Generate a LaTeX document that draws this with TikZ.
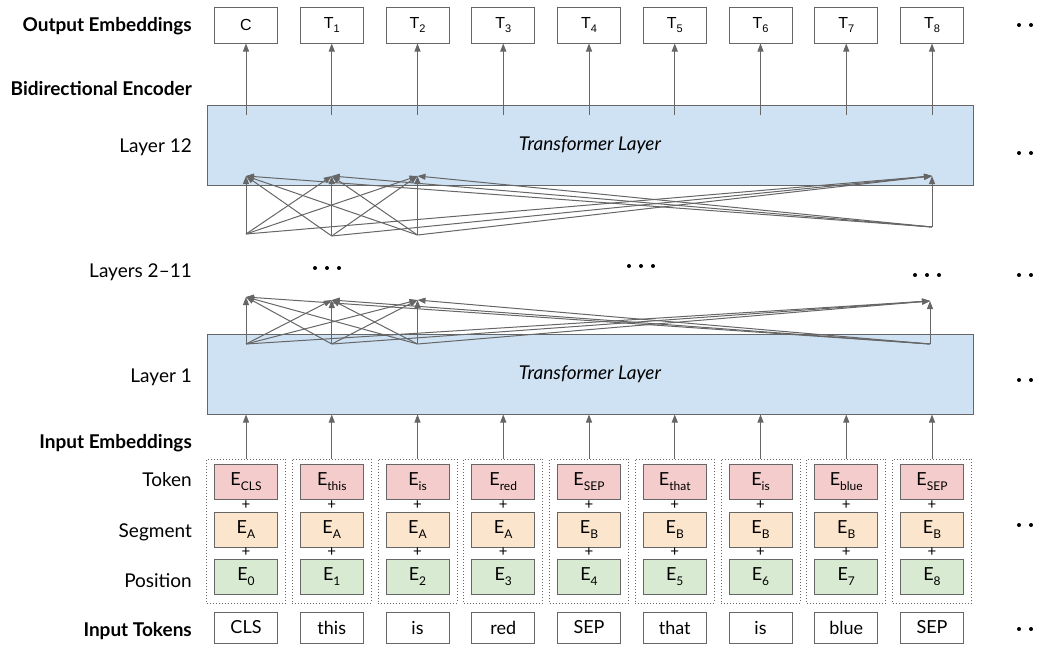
\documentclass[tikz,border=0pt]{standalone}
\usepackage{fontspec}
\setmainfont{Lato}
\newfontfamily\outfont{Liberation Sans}
\usetikzlibrary{positioning,arrows.meta}

\definecolor{tokred}{HTML}{F4CCCC}
\definecolor{segorange}{HTML}{FCE5CD}
\definecolor{posgreen}{HTML}{D9EAD3}
\definecolor{layerblue}{HTML}{CFE2F3}
\definecolor{edge}{HTML}{666666}

% lowered subscript at a fixed size
\newcommand\lowsub[2][12]{\raisebox{-4.5pt}{\fontsize{#1}{#1}\selectfont #2}}

\tikzset{
  rowlabel/.style={anchor=east, inner sep=0pt, font=\fontsize{19}{22}\selectfont},
  rowhead/.style={rowlabel, font=\bfseries\fontsize{19}{22}\selectfont},
  cell/.style={draw=edge, line width=1pt, minimum width=63pt, minimum height=35pt, inner sep=0pt, font=\fontsize{18}{20}\selectfont},
  layer/.style={draw=edge, line width=1pt, fill=layerblue, minimum width=766pt, minimum height=80pt, font=\itshape\fontsize{19}{22}\selectfont},
  group/.style={draw=edge, dotted, line width=1pt, minimum width=79pt, minimum height=144pt, inner sep=0pt},
  arr/.style={draw=edge, line width=1pt, -{Triangle[length=8pt,width=6pt]}},
  dot/.style={fill=black},
}

\begin{document}
\begin{tikzpicture}[x=1pt,y=-1pt]
\useasboundingbox (0,0) rectangle (1040,645);

% row labels
\node[rowhead]  (lbl-out)  at (192,26)  {Output Embeddings};
\node[rowhead]  (lbl-enc)  at (192,89)  {Bidirectional Encoder};
\node[rowlabel] (lbl-l12)  at (192,147) {Layer 12};
\node[rowlabel] (lbl-mid)  at (192,272) {Layers 2–11};
\node[rowlabel] (lbl-l1)   at (192,377) {Layer 1};
\node[rowhead]  (lbl-emb)  at (192,443) {Input Embeddings};
\node[rowlabel] (lbl-tok)  at (192,480) {Token};
\node[rowlabel] (lbl-seg)  at (192,532) {Segment};
\node[rowlabel] (lbl-pos)  at (192,581) {Position};
\node[rowhead]  (lbl-in)   at (192,631) {Input Tokens};

% the two transformer layers
\node[layer] (l12) at (590,145) {Transformer Layer};
\node[layer] (l1)  at (590,374) {Transformer Layer};

% one column per token
\foreach \i/\tk/\sg in {0/CLS/A, 1/this/A, 2/is/A, 3/red/A, 4/SEP/B, 5/that/B, 6/is/B, 7/blue/B, 8/SEP/B} {
  \pgfmathsetmacro\cx{246+85.75*\i}
  \node[cell, minimum height=36pt, font=\outfont\fontsize{16}{18}\selectfont] (out\i) at (\cx,25)
    {\ifnum\i=0 C\else T\lowsub[11]{\i}\fi};
  \coordinate (top\i) at (\cx,115);
  \draw[arr] (top\i) -- (out\i);

  \node[group] (grp\i) at (\cx,531) {};
  \node[cell, fill=tokred]    (tok\i) at (\cx,481.5) {E\lowsub{\tk}};
  \node[cell, fill=segorange] (seg\i) at (\cx,529.5) {E\lowsub{\sg}};
  \node[cell, fill=posgreen]  (pos\i) at (\cx,576.5) {E\lowsub{\i}};
  \node[inner sep=0pt, font=\fontsize{15}{16}\selectfont] (plusa\i) at (\cx,505) {+};
  \node[inner sep=0pt, font=\fontsize{15}{16}\selectfont] (plusb\i) at (\cx,552.5) {+};
  \draw[arr] (grp\i.north) -- (grp\i |- l1.south);

  \node[cell, minimum height=31pt] (in\i) at (\cx,627.5) {\tk};
}

% attention links below layer 12
\foreach \c/\x/\ys in {0/246/234, 1/331.75/236, 2/417.5/235, 3/932/227} {
  \coordinate (hisrc\c) at (\x,\ys);
  \coordinate (hidst\c) at (\x,176);
}
\foreach \s in {0,...,3}
  \foreach \t in {0,...,3}
    \draw[arr] (hisrc\s) -- (hidst\t);

% attention links above layer 1
\foreach \c/\x/\yt in {0/246/297, 1/331.75/300, 2/417.5/300, 3/930/301} {
  \coordinate (losrc\c) at (\x,344);
  \coordinate (lodst\c) at (\x,\yt);
}
\foreach \s in {0,...,3}
  \foreach \t in {0,...,3}
    \draw[arr] (losrc\s) -- (lodst\t);

% ellipses between the layers
\foreach \x/\y in {315/268, 327/268, 339/268, 629/266, 641/266, 653/266, 915/275, 927/275, 939/275}
  \fill[dot] (\x,\y) circle (2pt);

% more columns off to the right
\foreach \y in {25, 153, 275, 380, 525, 629} {
  \fill[dot] (1019,\y) circle (2pt);
  \fill[dot] (1031,\y) circle (2pt);
}
\end{tikzpicture}
\end{document}
